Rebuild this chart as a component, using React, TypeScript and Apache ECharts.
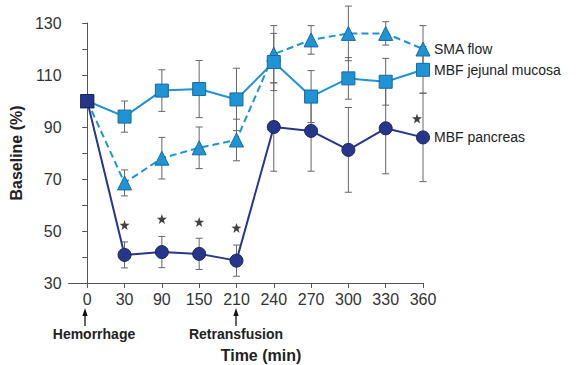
import React, { useEffect, useRef } from "react";
import * as echarts from "echarts";

const timeLabels = ["0", "30", "90", "150", "210", "240", "270", "300", "330", "360"];
const smaFlow = [100, 68.5, 78, 82, 85, 118, 123.5, 126, 126, 120];
const smaErr = [0, 5, 8, 8, 8, 11, 5.5, 10.5, 4.5, 9];
const jejunal = [100, 94, 104, 104.6, 100.6, 115, 101.7, 108.7, 107.4, 112];
const jejunalErr = [0, 6, 8, 11, 12, 11, 10, 8, 9, 9];
const pancreas = [100, 40.8, 41.9, 41.2, 38.6, 90, 88.5, 81.2, 89.5, 86];
const pancreasErr = [0, 5, 6, 6, 6, 17, 15.5, 16.3, 17.5, 17];
const starIdx = [1, 2, 3, 4, 9];
const starVals = [52.3, 54.6, 53.5, 51.2, 93.3];
const starShift = [0, 0, 0, 0, -6];

const FONT = "'Liberation Sans', Arial, Helvetica, sans-serif";
const LIGHT = "#1f93d4";
const NAVY = "#26368a";
const STAR =
  "path://M0,-10 L2.35,-3.24 L9.51,-3.09 L3.8,1.24 L5.88,8.09 L0,4 L-5.88,8.09 L-3.8,1.24 L-9.51,-3.09 L-2.35,-3.24Z";

function errSeries(vals: number[], errs: number[], z: number) {
  return {
    type: "custom",
    z,
    silent: true,
    clip: false,
    data: vals.map((v, i) => [i, v - errs[i], v + errs[i]]),
    renderItem: (params: any, api: any) => {
      if (api.value(2) - api.value(1) <= 0) return null;
      const lo = api.coord([api.value(0), api.value(1)]);
      const hi = api.coord([api.value(0), api.value(2)]);
      const w = 3.5;
      const style = { stroke: "#666", lineWidth: 1 };
      return {
        type: "group",
        children: [
          { type: "line", shape: { x1: lo[0], y1: lo[1], x2: hi[0], y2: hi[1] }, style },
          { type: "line", shape: { x1: lo[0] - w, y1: lo[1], x2: lo[0] + w, y2: lo[1] }, style },
          { type: "line", shape: { x1: hi[0] - w, y1: hi[1], x2: hi[0] + w, y2: hi[1] }, style },
        ],
      };
    },
  };
}

function arrow(x: number) {
  return [
    { type: "line", shape: { x1: x, y1: 314, x2: x, y2: 326 }, style: { stroke: "#111", lineWidth: 1.3 } },
    { type: "polygon", shape: { points: [[x, 308], [x - 2.6, 316], [x + 2.6, 316]] }, style: { fill: "#111" } },
  ];
}

export default function App() {
  const ref = useRef<HTMLDivElement>(null);
  useEffect(() => {
    document.body.style.margin = "0";
    if (!ref.current) return;
    const chart = echarts.init(ref.current, null, { renderer: "svg" });
    const idx = timeLabels.map((_, i) => i);
    chart.setOption({
      animation: false,
      textStyle: { fontFamily: FONT },
      grid: { left: 65, right: 153, top: 23, bottom: 82 },
      xAxis: {
        type: "value",
        min: -0.5,
        max: 9,
        splitLine: { show: false },
        axisLine: { show: true, lineStyle: { color: "#555", width: 1 } },
        axisTick: { show: true, length: 5, customValues: idx, lineStyle: { color: "#555" } },
        axisLabel: {
          customValues: idx,
          formatter: (v: number) => timeLabels[Math.round(v)],
          fontSize: 16,
          color: "#333",
          margin: 8,
          fontFamily: FONT,
        },
      },
      yAxis: {
        type: "value",
        min: 30,
        max: 130,
        interval: 20,
        name: "Baseline (%)",
        nameLocation: "middle",
        nameRotate: 90,
        nameGap: 43,
        nameTextStyle: { fontSize: 16, fontWeight: "bold", color: "#222", fontFamily: FONT },
        splitLine: { show: false },
        axisLine: { show: true, lineStyle: { color: "#555", width: 1 } },
        axisTick: { show: true, length: 5, lineStyle: { color: "#555" } },
        minorTick: { show: true, splitNumber: 2, length: 5, lineStyle: { color: "#555" } },
        axisLabel: { fontSize: 16, color: "#333", margin: 7, fontFamily: FONT },
      },
      graphic: [
        ...arrow(85),
        ...arrow(236),
        {
          type: "text",
          x: 94,
          y: 334,
          style: { text: "Hemorrhage", fill: "#222", align: "center", verticalAlign: "middle", font: `bold 14px ${FONT}` },
        },
        {
          type: "text",
          x: 236,
          y: 334,
          style: { text: "Retransfusion", fill: "#222", align: "center", verticalAlign: "middle", font: `bold 14px ${FONT}` },
        },
        {
          type: "text",
          x: 261,
          y: 355,
          style: { text: "Time (min)", fill: "#222", align: "center", verticalAlign: "middle", font: `bold 16px ${FONT}` },
        },
      ],
      series: [
        errSeries(smaFlow, smaErr, 1),
        errSeries(jejunal, jejunalErr, 1),
        errSeries(pancreas, pancreasErr, 1),
        {
          name: "SMA flow",
          type: "line",
          z: 3,
          data: smaFlow.map((v, i) => [i, v]),
          symbol: "triangle",
          symbolSize: 14,
          lineStyle: { color: LIGHT, width: 2, type: [7, 4] },
          itemStyle: { color: LIGHT, borderColor: "#176aa3", borderWidth: 1 },
          endLabel: { show: true, formatter: "{a}", distance: 11, fontSize: 14, color: "#222", fontFamily: FONT },
        },
        {
          name: "MBF jejunal mucosa",
          type: "line",
          z: 4,
          data: jejunal.map((v, i) => [i, v]),
          symbol: "rect",
          symbolSize: 13,
          lineStyle: { color: LIGHT, width: 2 },
          itemStyle: { color: LIGHT, borderColor: "#176aa3", borderWidth: 1 },
          endLabel: { show: true, formatter: "{a}", distance: 11, fontSize: 14, color: "#222", fontFamily: FONT },
        },
        {
          name: "MBF pancreas",
          type: "line",
          z: 5,
          data: pancreas.map((v, i) => (i === 0 ? { value: [i, v], symbol: "rect", symbolSize: 13 } : [i, v])),
          symbol: "circle",
          symbolSize: 13,
          lineStyle: { color: NAVY, width: 2 },
          itemStyle: { color: NAVY, borderColor: "#1a2560", borderWidth: 1 },
          endLabel: { show: true, formatter: "{a}", distance: 11, fontSize: 14, color: "#222", fontFamily: FONT },
        },
        {
          type: "scatter",
          z: 6,
          data: starIdx.map((x, i) => ({ value: [x, starVals[i]], symbolOffset: [starShift[i], 0] })),
          symbol: STAR,
          symbolSize: 10,
          itemStyle: { color: "#111" },
        },
      ],
    });
    return () => chart.dispose();
  }, []);
  return <div ref={ref} style={{ width: 576, height: 365 }} />;
}
